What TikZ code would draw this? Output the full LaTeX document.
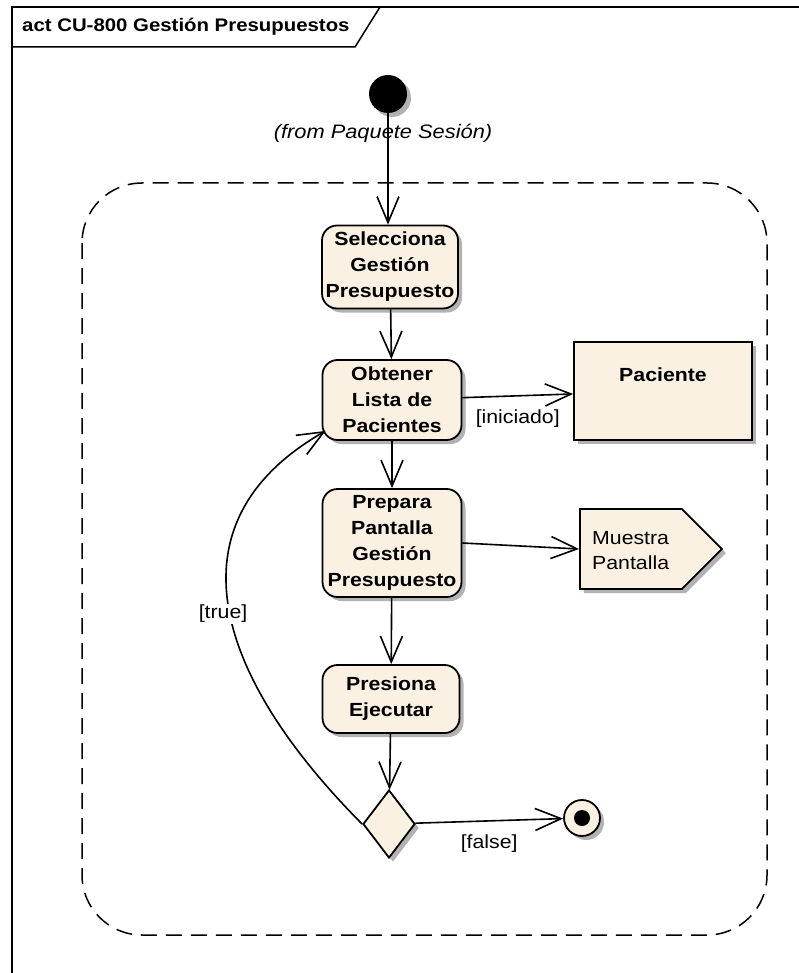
\documentclass[tikz,border=0pt]{standalone}
\usepackage{fontspec}
\setmainfont{Liberation Sans}[FakeStretch=1.12]
\usetikzlibrary{arrows.meta,shapes.geometric,shapes.symbols,shadows}
\definecolor{actfill}{RGB}{251,241,227}
\tikzstyle{dshadow}=[drop shadow={shadow xshift=4pt, shadow yshift=-4pt, fill=black!30, opacity=1}]
\tikzstyle{act}=[draw, line width=1.8pt, fill=actfill, rounded corners=15pt, align=center, inner sep=0pt, font=\fontsize{19}{26}\selectfont\bfseries, dshadow]
\tikzstyle{obj}=[draw, line width=1.8pt, fill=actfill, inner sep=0pt, dshadow]
\tikzstyle{flow}=[line width=1.6pt, -{Straight Barb[length=26pt,width=22pt,line width=1.6pt]}]
\tikzstyle{guard}=[font=\fontsize{19}{25}\selectfont, inner sep=0pt]

\begin{document}
\begin{tikzpicture}[x=1pt,y=-1pt]
    \useasboundingbox (0,0) rectangle (799,973);
    \draw[line width=1.8pt] (12,973) -- (12,7) -- (799,7);
    \draw[line width=1.5pt] (12,47) -- (355,47) -- (380,7);
    \node[anchor=west, inner sep=0pt, font=\fontsize{18.2}{22}\selectfont\bfseries] (title) at (22,27) {act CU-800 Gestión Presupuestos};
    \draw[line width=1.5pt, dash pattern=on 16pt off 9pt, rounded corners=60pt] (82,183) rectangle (767,935);

    \node[circle, fill=black, minimum size=38pt, inner sep=0pt, dshadow] (init) at (388,94) {};
    \node[guard, font=\fontsize{19.5}{20}\selectfont\itshape] (from) at (383,133) {(from Paquete Sesión)};

    \node[act, minimum width=136pt, minimum height=83pt] (sel) at (390,267) {Selecciona\\Gestión\\Presupuesto};
    \node[act, minimum width=139pt, minimum height=80pt] (obt) at (392,400) {Obtener\\Lista de\\Pacientes};
    \node[act, minimum width=139pt, minimum height=108pt] (prep) at (392,543) {Prepara\\Pantalla\\Gestión\\Presupuesto};
    \node[act, minimum width=137pt, minimum height=68pt] (pres) at (391,699) {Presiona\\Ejecutar};
    \node[obj, diamond, minimum width=52pt, minimum height=68pt] (dec) at (389,824) {};
    \node[obj, circle, minimum size=36pt, path picture={\fill[black] (path picture bounding box.center) circle (8pt);}] (fin) at (582,818) {};

    \node[obj, minimum width=178pt, minimum height=98pt] (pac) at (663,391) {};
    \node[guard, font=\fontsize{19}{22}\selectfont\bfseries] (pactxt) at (663,375) {Paciente};
    \node[obj, signal, signal to=east, signal pointer angle=90, minimum width=142pt, minimum height=80pt, anchor=west] (mues) at (579,549) {};
    \node[guard, anchor=west, align=left] (muestxt) at (592,551) {Muestra\\Pantalla};

    \draw[flow] (init) -- (init |- sel.north);
    \draw[flow] (sel) -- (obt);
    \draw[flow] (obt) -- node[guard, below=13pt] (lini) {[iniciado]} (pac);
    \draw[flow] (obt) -- (prep);
    \draw[flow] (prep.east) -- (mues.west);
    \draw[flow] (prep) -- (pres);
    \draw[flow] (pres) -- (dec);
    \draw[flow] (dec) -- node[guard, below=13pt] (lfal) {[false]} (fin);
    \draw[flow] (dec.west) .. controls (213,674) and (167,522) .. ([shift={(4,-10)}]obt.south west);
    \node[guard, fill=white, inner sep=1pt] (ltrue) at (223,614) {[true]};
\end{tikzpicture}
\end{document}
